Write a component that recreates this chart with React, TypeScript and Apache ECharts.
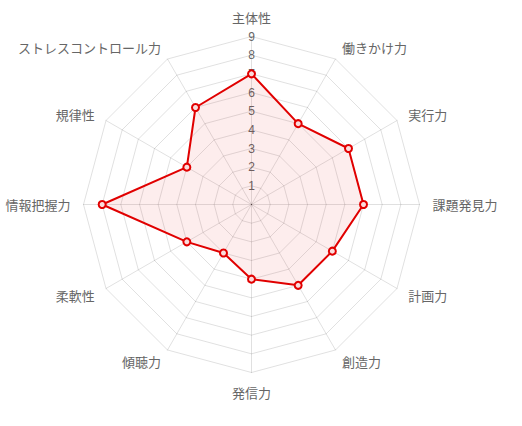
import React, { useEffect, useRef } from "react";
import * as echarts from "echarts";

// clockwise from top
const categories = [
  "主体性",
  "働きかけ力",
  "実行力",
  "課題発見力",
  "計画力",
  "創造力",
  "発信力",
  "傾聴力",
  "柔軟性",
  "情報把握力",
  "規律性",
  "ストレスコントロール力",
];
const values = [7, 5, 6, 6, 5, 5, 4, 3, 4, 8, 4, 6];
const maxValue = 9;
const tickInterval = 1;

export default function App() {
  const ref = useRef<HTMLDivElement>(null);
  useEffect(() => {
    if (!ref.current) return;
    const chart = echarts.init(ref.current, undefined, { renderer: "svg" });
    // ECharts radar goes counter-clockwise: keep first, reverse rest
    const order = [0, ...categories.map((_, i) => i).slice(1).reverse()];
    const center = [251.5, 204.5];
    const radius = 168;
    const font = '"Noto Sans CJK JP", "Noto Sans", sans-serif';
    chart.setOption({
      animation: false,
      radar: {
        center,
        radius,
        startAngle: 90,
        shape: "polygon",
        splitNumber: 9,
        indicator: order.map((i) => ({ name: categories[i], min: 0, max: maxValue })),
        axisName: { color: "#666", fontSize: 13, fontFamily: font },
        nameGap: 13,
        splitLine: { lineStyle: { color: "rgba(0,0,0,0.12)", width: 1 } },
        axisLine: { lineStyle: { color: "rgba(0,0,0,0.12)", width: 1 } },
        splitArea: { show: false },
        axisTick: { show: false },
        axisLabel: { show: false },
      },
      polar: { center, radius },
      angleAxis: {
        show: false,
        startAngle: 90,
        min: 0,
        max: 360,
      },
      radiusAxis: {
        min: 0,
        max: maxValue,
        interval: tickInterval,
        axisLine: { show: false },
        axisTick: { show: false },
        splitLine: { show: false },
        axisLabel: {
          show: true,
          showMinLabel: false,
          color: "#666",
          fontSize: 12,
          fontFamily: '"Liberation Sans", Arial, sans-serif',
          margin: 0,
          align: "center",
          verticalAlign: "middle",
          padding: [0, 0, 3, 0],
        },
      },
      series: [
        {
          type: "radar",
          symbol: "circle",
          symbolSize: 7,
          lineStyle: { color: "rgb(225,0,0)", width: 2 },
          itemStyle: {
            color: "rgba(250,220,220,1)",
            borderColor: "rgb(225,0,0)",
            borderWidth: 2,
          },
          areaStyle: { color: "rgba(220,0,0,0.1)" },
          data: [{ value: order.map((i) => values[i]), name: "score" }],
        },
      ],
    });
    return () => chart.dispose();
  }, []);
  return (
    <div
      ref={ref}
      style={{ position: "absolute", left: 0, top: 0, width: 522, height: 426 }}
    />
  );
}
